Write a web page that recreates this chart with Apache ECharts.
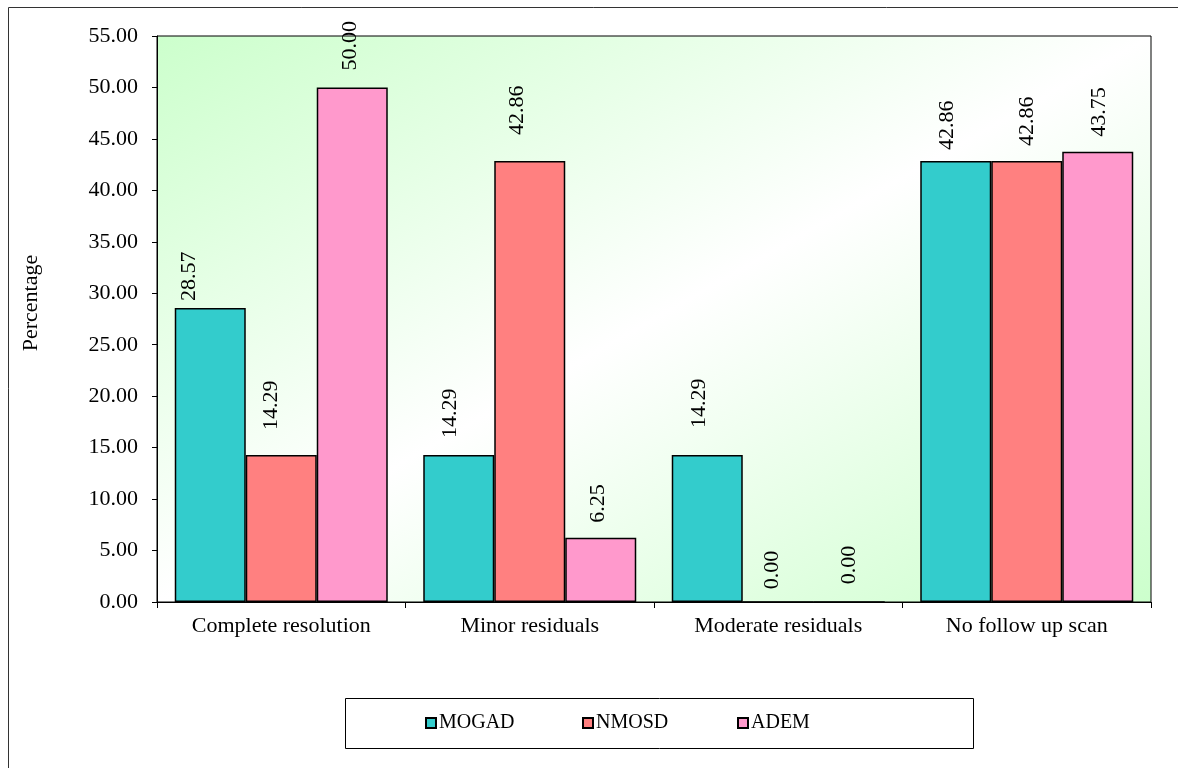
<!DOCTYPE html>
<html>
<head>
<meta charset="utf-8">
<script src="https://cdn.jsdelivr.net/npm/echarts@6/dist/echarts.min.js"></script>
<style>
html,body{margin:0;padding:0;background:#fff;}
#chart{width:1178px;height:768px;}
</style>
</head>
<body>
<div id="chart"></div>
<script>
const categories = ['Complete resolution', 'Minor residuals', 'Moderate residuals', 'No follow up scan'];
const seriesNames = ['MOGAD', 'NMOSD', 'ADEM'];
const mogad = [28.57, 14.29, 14.29, 42.86];
const nmosd = [14.29, 42.86, 0.00, 42.86];
const adem  = [50.00, 6.25, 0.00, 43.75];
const yTicks = [0, 55, 5]; // min, max, interval
const yAxisTitle = 'Percentage';

// label style tweaks (gap above bar, horizontal shift)
const labelGap = [[7, 17, 27, 11], [25, 26, 12, 15], [17, 15, 17, 15]];
const labelShift = [[-21, -9, -8, -9], [-10, -13, -6, 0], [-2, -3, 0, 1]];
const colors = ['#33CCCC', '#FF8080', '#FF99CC'];
const legendLefts = [425, 582, 737];

const FONT = '"Liberation Serif", "Times New Roman", serif';
const G = {left: 157, top: 36, right: 1151, bottom: 602};
const W = G.right - G.left, H = G.bottom - G.top;
// Gradient with iso-lines parallel to the anti-diagonal (Excel style)
const k = (2 * W * H) / (H * H + W * W);
const bg = new echarts.graphic.LinearGradient(
  G.left, G.top, G.left + H * k, G.top + W * k,
  [{offset: 0, color: '#ccffcc'}, {offset: 0.5, color: '#ffffff'}, {offset: 1, color: '#ccffcc'}],
  true
);

const allVals = [mogad, nmosd, adem];
const chart = echarts.init(document.getElementById('chart'));
chart.setOption({
  animation: false,
  backgroundColor: '#fff',
  grid: {
    left: G.left, top: G.top, right: 1178 - G.right, bottom: 768 - G.bottom,
    show: true, backgroundColor: bg, borderColor: '#000', borderWidth: 1
  },
  legend: seriesNames.map((name, i) => ({
    data: [name],
    left: legendLefts[i], top: 713,
    padding: 0,
    itemWidth: 10, itemHeight: 10,
    icon: 'rect',
    textStyle: {fontFamily: FONT, fontSize: 20, color: '#000', padding: [0, 0, 0, -2]}
  })),
  xAxis: {
    type: 'category',
    data: categories,
    axisLine: {lineStyle: {color: '#000', width: 1}},
    axisTick: {show: true, length: 6, lineStyle: {color: '#000'}},
    axisLabel: {fontFamily: FONT, fontSize: 22, color: '#000', margin: 13, interval: 0},
    splitLine: {show: false}
  },
  yAxis: {
    type: 'value',
    min: yTicks[0], max: yTicks[1], interval: yTicks[2],
    axisLine: {show: true, lineStyle: {color: '#000', width: 1}},
    axisTick: {show: true, length: 5, lineStyle: {color: '#000'}},
    axisLabel: {fontFamily: FONT, fontSize: 22, color: '#000', margin: 19,
      formatter: v => v.toFixed(2)},
    splitLine: {show: false}
  },
  series: seriesNames.map((name, si) => ({
    name: name,
    type: 'bar',
    barWidth: 71,
    barGap: '0%',
    itemStyle: {color: colors[si], borderColor: '#000', borderWidth: 1.5},
    label: {
      show: true, position: 'top', rotate: 90, align: 'left', verticalAlign: 'middle',
      fontFamily: FONT, fontSize: 22, color: '#000',
      formatter: p => p.value.toFixed(2)
    },
    data: allVals[si].map((v, i) => ({
      value: v,
      label: {distance: labelGap[si][i], offset: [0, labelShift[si][i]]}
    }))
  })),
  graphic: [
    {type: 'rect', z: -10, shape: {x: 8.5, y: 7.5, width: 1200, height: 800},
      style: {fill: null, stroke: '#333', lineWidth: 1}},
    {type: 'rect', z: -5, shape: {x: 345.5, y: 698.5, width: 628, height: 50},
      style: {fill: '#fff', stroke: '#000', lineWidth: 1}},
    {type: 'line', z: 10, shape: {x1: G.right + 0.5, y1: G.top, x2: G.right + 0.5, y2: G.bottom},
      style: {stroke: '#808080', lineWidth: 1}},
    {type: 'text', x: 31, y: 303, rotation: Math.PI / 2,
      style: {text: yAxisTitle, font: '22px ' + FONT, fill: '#000', align: 'center', verticalAlign: 'middle'}}
  ]
});
</script>
</body>
</html>
